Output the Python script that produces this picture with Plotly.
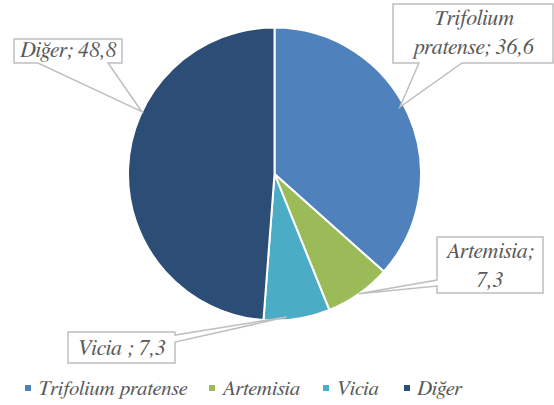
import math
import plotly.graph_objects as go

# Pollen composition (%)
labels = ["Trifolium pratense", "Artemisia", "Vicia", "Diğer"]
values = [36.6, 7.3, 7.3, 48.8]
colors = ["#4f81bd", "#9bbb59", "#4bacc6", "#2c4d75"]
label_texts = ["<i>Trifolium</i><br><i>pratense; 36,6</i>",
               "<i>Artemisia;</i><br><i>7,3</i>",
               "<i>Vicia ; 7,3</i>",
               "<i>Diğer; 48,8</i>"]

W, H = 554, 405
CX, CY, R = 274.5, 174.0, 146.5   # pie centre / radius in pixels

FONT = "FreeSerif"
TEXT_COLOR = "#595959"
BORDER = "#bfbfbf"

fig = go.Figure(go.Pie(
    labels=labels, values=values, sort=False, direction="clockwise",
    rotation=0, textinfo="none", hoverinfo="label+value",
    marker=dict(colors=colors, line=dict(color="white", width=2)),
    domain=dict(x=[(CX - R) / W, (CX + R) / W],
                y=[1 - (CY + R) / H, 1 - (CY - R) / H]),
    showlegend=False,
))


def px(x, y):
    return x / W, 1 - y / H


# callout boxes: (x0, y0, x1, y1), side the pointer leaves from, pointer base,
# shift of the pointer tip from the slice mid-angle (deg), tip radius fraction
callouts = [
    ((393, 4, 553, 63), "bottom", (419, 462), -4, 0.97),
    ((437, 237, 543, 293), "left", (280, 286), 0, 1.0),
    ((68, 332, 175, 363), "right", (335, 342), 4, 0.98),
    ((14, 39, 122, 63), "bottom", (38, 108), 23, 1.0),
]

total = sum(values)
start = 0.0
shapes = []
annotations = []
for v, txt, (box, side, (a, b), shift, rf) in zip(values, label_texts, callouts):
    mid = (start + v / 2) / total * 360 + shift
    start += v
    tx = CX + R * rf * math.sin(math.radians(mid))
    ty = CY - R * rf * math.cos(math.radians(mid))
    x0, y0, x1, y1 = box
    pts = [(x0, y0), (x1, y0)]
    if side == "right":
        pts += [(x1, a), (tx, ty), (x1, b)]
    pts += [(x1, y1)]
    if side == "bottom":
        pts += [(b, y1), (tx, ty), (a, y1)]
    pts += [(x0, y1)]
    if side == "left":
        pts += [(x0, b), (tx, ty), (x0, a)]
    path = "M" + " L".join("%.5f,%.5f" % px(*p) for p in pts) + " Z"
    shapes.append(dict(type="path", path=path, xref="paper", yref="paper",
                       fillcolor="white", line=dict(color=BORDER, width=1.5),
                       layer="above"))
    cx, cy = px((x0 + x1) / 2, (y0 + y1) / 2)
    annotations.append(dict(text=txt, x=cx, y=cy, xref="paper", yref="paper",
                            xanchor="center", yanchor="middle", showarrow=False,
                            font=dict(family=FONT, size=22, color=TEXT_COLOR)))

# legend row along the bottom
legend_x = [25, 209, 323, 404]
legend_y = 388
for name, col, lx in zip(labels, colors, legend_x):
    sx0, sy0 = px(lx, legend_y - 3)
    sx1, sy1 = px(lx + 6, legend_y + 3)
    shapes.append(dict(type="rect", xref="paper", yref="paper",
                       x0=sx0, x1=sx1, y0=sy1, y1=sy0,
                       fillcolor=col, line=dict(width=0)))
    ax, ay = px(lx + 11, legend_y)
    annotations.append(dict(text="<i>%s</i>" % name, x=ax, y=ay,
                            xref="paper", yref="paper", xanchor="left",
                            yanchor="middle", showarrow=False,
                            font=dict(family=FONT, size=21, color=TEXT_COLOR)))

fig.update_layout(
    width=W, height=H, margin=dict(l=0, r=0, t=0, b=0),
    paper_bgcolor="white", plot_bgcolor="white",
    font=dict(family=FONT),
    shapes=shapes, annotations=annotations,
)

fig.write_html("out.html")
